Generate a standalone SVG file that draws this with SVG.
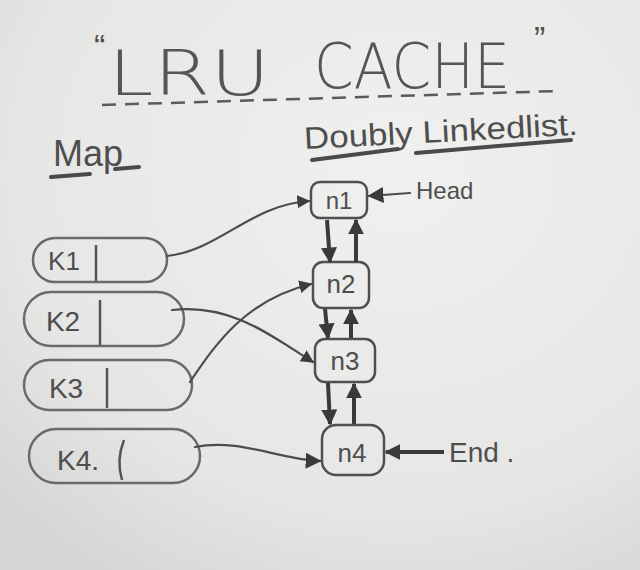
<svg xmlns="http://www.w3.org/2000/svg" width="640" height="570" viewBox="0 0 640 570">
<defs>
<radialGradient id="paper" cx="0.62" cy="0.3" r="0.85">
<stop offset="0" stop-color="#f0f0ee"/>
<stop offset="0.7" stop-color="#e6e6e4"/>
<stop offset="1" stop-color="#d5d5d3"/>
</radialGradient>
<marker id="ah" viewBox="0 0 10 10" refX="9" refY="5" markerWidth="13" markerHeight="13" markerUnits="userSpaceOnUse" orient="auto">
<path d="M0,0 L10,5 L0,10 z" fill="#3d3d3d"/>
</marker>
<marker id="ahBig" viewBox="0 0 10 10" refX="9" refY="5" markerWidth="16" markerHeight="16" markerUnits="userSpaceOnUse" orient="auto">
<path d="M0,0 L10,5 L0,10 z" fill="#3a3a3a"/>
</marker>
</defs>
<style>
.txt{font-family:"Liberation Sans","DejaVu Sans",sans-serif;fill:#4e4e4e}
.thin{font-family:"DejaVu Sans","Liberation Sans",sans-serif;font-weight:200;fill:#555}
.box{fill:none;stroke:#4f4f4f;stroke-width:2.5}
.pill{fill:none;stroke:#6a6a6a;stroke-width:2.5}
.div{stroke:#555;stroke-width:2.5}
.link{fill:none;stroke:#4c4c4c;stroke-width:2.2;stroke-linecap:round}
.dll{fill:none;stroke:#3a3a3a;stroke-width:4}
.ul{stroke:#4a4a4a;stroke-width:4;stroke-linecap:round}
</style>
<rect x="0" y="0" width="640" height="570" fill="url(#paper)"/>

<g id="title">
<text class="txt" x="94" y="58" font-size="34">“</text>
<text class="thin" x="108" y="95" font-size="62" textLength="162" lengthAdjust="spacingAndGlyphs">LRU</text>
<text class="thin" x="314" y="88" font-size="62" textLength="196" lengthAdjust="spacingAndGlyphs">CACHE</text>
<text class="txt" x="534" y="50" font-size="34">”</text>
<path d="M102,105 L559,91" stroke="#5a5a5a" stroke-width="2.5" stroke-dasharray="14 9" fill="none"/>
</g>

<g id="map-label">
<text class="txt" x="53" y="166" font-size="36">Map</text>
<line class="ul" x1="51" y1="177" x2="90" y2="174"/>
<line class="ul" x1="115" y1="169" x2="139" y2="167"/>
</g>

<g id="dll-label">
<text class="txt" x="304" y="142" font-size="31" textLength="274" lengthAdjust="spacingAndGlyphs" transform="rotate(-3 440 135)">Doubly Linkedlist.</text>
<line class="ul" x1="312" y1="160" x2="398" y2="149"/>
<line class="ul" x1="416" y1="153" x2="571" y2="140"/>
</g>

<g id="n1">
<rect class="box" x="311" y="182" width="56" height="36" rx="9"/>
<text class="txt" x="339" y="209" font-size="24" text-anchor="middle">n1</text>
</g>
<g id="n2">
<rect class="box" x="313" y="262" width="56" height="46" rx="10"/>
<text class="txt" x="341" y="293" font-size="26" text-anchor="middle">n2</text>
</g>
<g id="n3">
<rect class="box" x="315" y="339" width="60" height="43" rx="10"/>
<text class="txt" x="345" y="370" font-size="26" text-anchor="middle">n3</text>
</g>
<g id="n4">
<rect class="box" x="322" y="425" width="62" height="50" rx="14"/>
<text class="txt" x="352" y="462" font-size="26" text-anchor="middle">n4</text>
</g>

<g id="k1">
<rect class="pill" x="33" y="238" width="134" height="44" rx="22"/>
<line class="div" x1="96" y1="245" x2="96" y2="281"/>
<text class="txt" x="64" y="270" font-size="26" text-anchor="middle">K1</text>
</g>
<g id="k2">
<rect class="pill" x="24" y="292" width="160" height="54" rx="27"/>
<line class="div" x1="100" y1="300" x2="100" y2="345"/>
<text class="txt" x="63" y="331" font-size="28" text-anchor="middle">K2</text>
</g>
<g id="k3">
<rect class="pill" x="24" y="360" width="168" height="50" rx="25"/>
<line class="div" x1="107" y1="368" x2="107" y2="408"/>
<text class="txt" x="66" y="398" font-size="28" text-anchor="middle">K3</text>
</g>
<g id="k4">
<rect class="pill" x="29" y="429" width="171" height="54" rx="27"/>
<path class="div" d="M124,440 Q116,460 122,480" fill="none"/>
<text class="txt" x="78" y="470" font-size="28" text-anchor="middle">K4.</text>
</g>

<g id="head">
<text class="txt" x="416" y="199" font-size="24">Head</text>
</g>
<g id="end">
<text class="txt" x="449" y="462" font-size="28">End .</text>
</g>

<g id="connectors">
<path class="link" d="M167,256 C220,250 250,205 309,201" marker-end="url(#ah)"/>
<path class="link" d="M172,310 C230,303 270,335 313,362" marker-end="url(#ah)"/>
<path class="link" d="M190,382 C215,345 245,300 311,284" marker-end="url(#ah)"/>
<path class="link" d="M195,447 C240,438 280,460 320,461" marker-end="url(#ahBig)"/>
<path class="dll" d="M327,220 L330,262" marker-end="url(#ahBig)"/>
<path class="dll" d="M356,262 L356,220" marker-end="url(#ahBig)"/>
<path class="dll" d="M325,309 L328,338" marker-end="url(#ahBig)"/>
<path class="dll" d="M351,338 L351,310" marker-end="url(#ahBig)"/>
<path class="dll" d="M328,383 L330,424" marker-end="url(#ahBig)"/>
<path class="dll" d="M354,424 L354,384" marker-end="url(#ahBig)"/>
<path class="link" d="M410,193 L369,196" marker-end="url(#ahBig)"/>
<path class="dll" d="M444,452 L386,452" marker-end="url(#ahBig)"/>
</g>
</svg>
